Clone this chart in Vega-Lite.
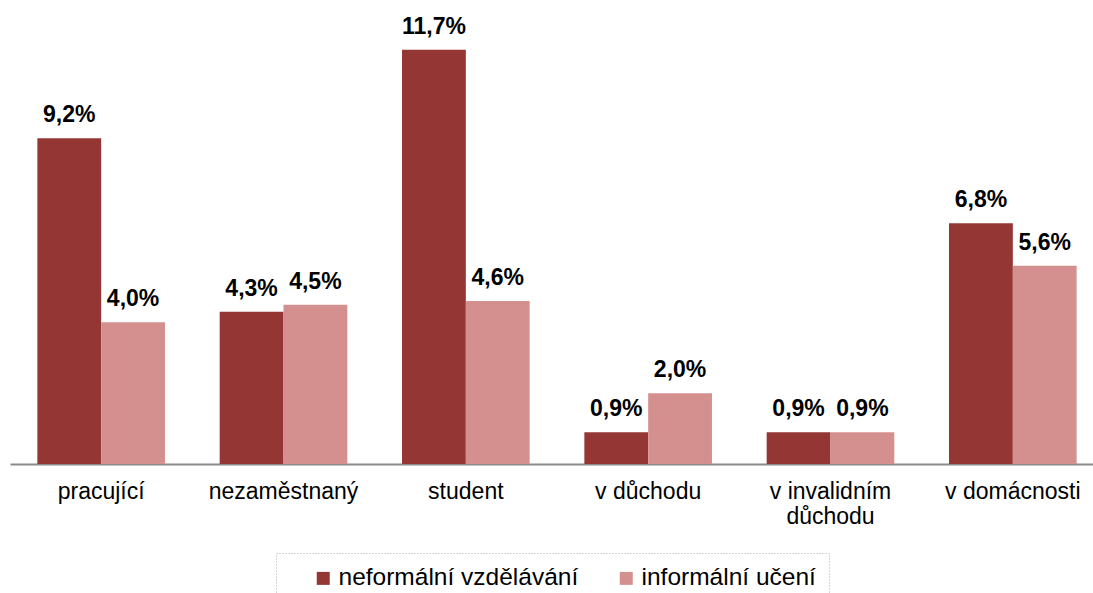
{
  "$schema": "https://vega.github.io/schema/vega-lite/v6.json",
  "width": 1094,
  "height": 425,
  "autosize": {"type": "none"},
  "padding": {"left": 10, "top": 39, "right": 0, "bottom": 140},
  "background": "white",
  "config": {
    "font": "Liberation Sans",
    "view": {"stroke": null}
  },
  "data": {
    "values": [
      {"cat": "pracující", "typ": "neformální vzdělávání", "v": 9.2},
      {"cat": "pracující", "typ": "informální učení", "v": 4.0},
      {"cat": "nezaměstnaný", "typ": "neformální vzdělávání", "v": 4.3},
      {"cat": "nezaměstnaný", "typ": "informální učení", "v": 4.5},
      {"cat": "student", "typ": "neformální vzdělávání", "v": 11.7},
      {"cat": "student", "typ": "informální učení", "v": 4.6},
      {"cat": "v důchodu", "typ": "neformální vzdělávání", "v": 0.9},
      {"cat": "v důchodu", "typ": "informální učení", "v": 2.0},
      {"cat": "v invalidním důchodu", "typ": "neformální vzdělávání", "v": 0.9},
      {"cat": "v invalidním důchodu", "typ": "informální učení", "v": 0.9},
      {"cat": "v domácnosti", "typ": "neformální vzdělávání", "v": 6.8},
      {"cat": "v domácnosti", "typ": "informální učení", "v": 5.6}
    ]
  },
  "transform": [
    {"calculate": "replace(format(datum.v, '.1f'), '.', ',') + '%'", "as": "lbl"}
  ],
  "encoding": {
    "x": {
      "field": "cat",
      "type": "nominal",
      "sort": null,
      "scale": {"paddingInner": 0.3, "paddingOuter": 0.15},
      "axis": {
        "title": null,
        "domainColor": "#898989",
        "domainWidth": 2,
        "ticks": false,
        "labelAngle": 0,
        "labelFontSize": 23,
        "labelColor": "#000000",
        "labelPadding": 16,
        "labelLineHeight": 25,
        "labelExpr": "datum.label == 'v invalidním důchodu' ? ['v invalidním', 'důchodu'] : datum.label"
      }
    },
    "xOffset": {"field": "typ", "type": "nominal", "sort": ["neformální vzdělávání", "informální učení"], "scale": {"paddingInner": 0}},
    "y": {
      "field": "v",
      "type": "quantitative",
      "scale": {"domain": [0, 12]},
      "axis": null
    }
  },
  "layer": [
    {
      "mark": {"type": "bar"},
      "encoding": {
        "color": {
          "field": "typ",
          "type": "nominal",
          "sort": ["neformální vzdělávání", "informální učení"],
          "scale": {"domain": ["neformální vzdělávání", "informální učení"], "range": ["#943634", "#D4908F"]},
          "legend": {
            "title": null,
            "orient": "none",
            "legendX": 266,
            "legendY": 514,
            "direction": "horizontal",
            "symbolType": "square",
            "symbolSize": 169,
            "symbolStrokeWidth": 0,
            "symbolOffset": 22,
            "labelFontSize": 24.5,
            "labelColor": "#000000",
            "labelOffset": 3,
            "columnPadding": 13,
            "padding": 13,
            "strokeColor": "#aaaaaa",
            "labelLimit": 400,
            "encode": {"legend": {"update": {"strokeDash": {"value": [1, 2]}}}}
          }
        }
      }
    },
    {
      "mark": {"type": "text", "fontWeight": "bold", "fontSize": 23, "dy": -16, "baseline": "alphabetic", "color": "#000000"},
      "encoding": {
        "text": {"field": "lbl", "type": "nominal"},
        "detail": {"field": "typ"}
      }
    }
  ]
}
